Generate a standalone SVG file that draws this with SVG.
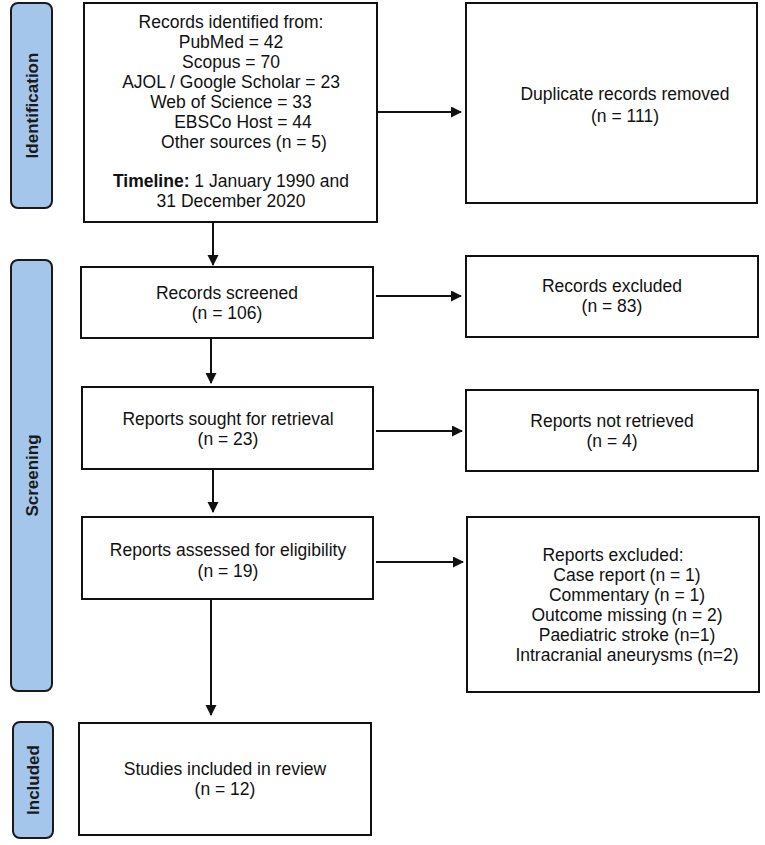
<svg xmlns="http://www.w3.org/2000/svg" width="765" height="845" viewBox="0 0 765 845">
<defs>
<marker id="ah" markerUnits="userSpaceOnUse" markerWidth="11" markerHeight="12" refX="10" refY="5.5" orient="auto">
<path d="M0,0 L11,5.5 L0,11 Z" fill="#111"/>
</marker>
<style>
.box{fill:#fff;stroke:#111;stroke-width:2}
.bar{fill:#a3c6ea;stroke:#1a1a1a;stroke-width:2}
.t{font-family:"Liberation Sans",Arial,sans-serif;font-size:17.5px;fill:#111;text-anchor:middle}
.bt{font-family:"Liberation Sans",Arial,sans-serif;font-size:17px;font-weight:bold;fill:#1a1a1a;text-anchor:middle}
.c{stroke:#111;stroke-width:2;fill:none;marker-end:url(#ah)}
</style>
</defs>
<rect width="765" height="845" fill="#fff"/>
<g id="bar-identification">
<rect class="bar" x="11" y="3" width="41" height="205" rx="7"/>
<text class="bt" transform="translate(38,105.5) rotate(-90)">Identification</text>
</g>
<g id="bar-screening">
<rect class="bar" x="11" y="260" width="41" height="431" rx="7"/>
<text class="bt" transform="translate(38,475.5) rotate(-90)">Screening</text>
</g>
<g id="bar-included">
<rect class="bar" x="13" y="722" width="40" height="116" rx="7"/>
<text class="bt" transform="translate(39,780) rotate(-90)">Included</text>
</g>
<g id="records-identified">
<rect class="box" x="84" y="3" width="293" height="219"/>
<text class="t" x="231" y="28">Records identified from:</text>
<text class="t" x="231" y="48">PubMed = 42</text>
<text class="t" x="231" y="68">Scopus = 70</text>
<text class="t" x="231" y="88">AJOL / Google Scholar = 23</text>
<text class="t" x="231" y="108">Web of Science = 33</text>
<text class="t" x="243" y="128">EBSCo Host = 44</text>
<text class="t" x="244" y="148">Other sources (n = 5)</text>
<text class="t" x="231" y="187"><tspan font-weight="bold">Timeline:</tspan> 1 January 1990 and</text>
<text class="t" x="231" y="207">31 December 2020</text>
</g>
<g id="duplicates-removed">
<rect class="box" x="466" y="3" width="291" height="200"/>
<text class="t" x="625" y="100">Duplicate records removed</text>
<text class="t" x="625" y="122">(n = 111)</text>
</g>
<g id="records-screened">
<rect class="box" x="81" y="267" width="292" height="71"/>
<text class="t" x="227" y="299">Records screened</text>
<text class="t" x="227" y="319">(n = 106)</text>
</g>
<g id="records-excluded">
<rect class="box" x="466" y="256" width="292" height="81"/>
<text class="t" x="612" y="292">Records excluded</text>
<text class="t" x="612" y="312">(n = 83)</text>
</g>
<g id="reports-sought">
<rect class="box" x="82" y="387" width="291" height="82"/>
<text class="t" x="228" y="425">Reports sought for retrieval</text>
<text class="t" x="228" y="445">(n = 23)</text>
</g>
<g id="reports-not-retrieved">
<rect class="box" x="466" y="390" width="292" height="81"/>
<text class="t" x="612" y="427">Reports not retrieved</text>
<text class="t" x="612" y="447">(n = 4)</text>
</g>
<g id="reports-assessed">
<rect class="box" x="82" y="517" width="291" height="82"/>
<text class="t" x="228" y="556">Reports assessed for eligibility</text>
<text class="t" x="228" y="577">(n = 19)</text>
</g>
<g id="reports-excluded">
<rect class="box" x="467" y="517" width="292" height="175"/>
<text class="t" x="613" y="561">Reports excluded:</text>
<text class="t" x="627" y="581">Case report (n = 1)</text>
<text class="t" x="627" y="601">Commentary (n = 1)</text>
<text class="t" x="627" y="621">Outcome missing (n = 2)</text>
<text class="t" x="627" y="641">Paediatric stroke (n=1)</text>
<text class="t" x="627" y="661">Intracranial aneurysms (n=2)</text>
</g>
<g id="studies-included">
<rect class="box" x="79" y="723" width="292" height="112"/>
<text class="t" x="225" y="775">Studies included in review</text>
<text class="t" x="225" y="795">(n = 12)</text>
</g>
<g id="connectors">
<line class="c" x1="377" y1="112" x2="461" y2="112"/>
<line class="c" x1="213" y1="222" x2="213" y2="265"/>
<line class="c" x1="376" y1="296" x2="461" y2="296"/>
<line class="c" x1="211" y1="338" x2="211" y2="383"/>
<line class="c" x1="376" y1="431" x2="462" y2="431"/>
<line class="c" x1="213" y1="469" x2="213" y2="512"/>
<line class="c" x1="376" y1="562" x2="463" y2="562"/>
<line class="c" x1="211" y1="599" x2="211" y2="715"/>
</g>
</svg>
